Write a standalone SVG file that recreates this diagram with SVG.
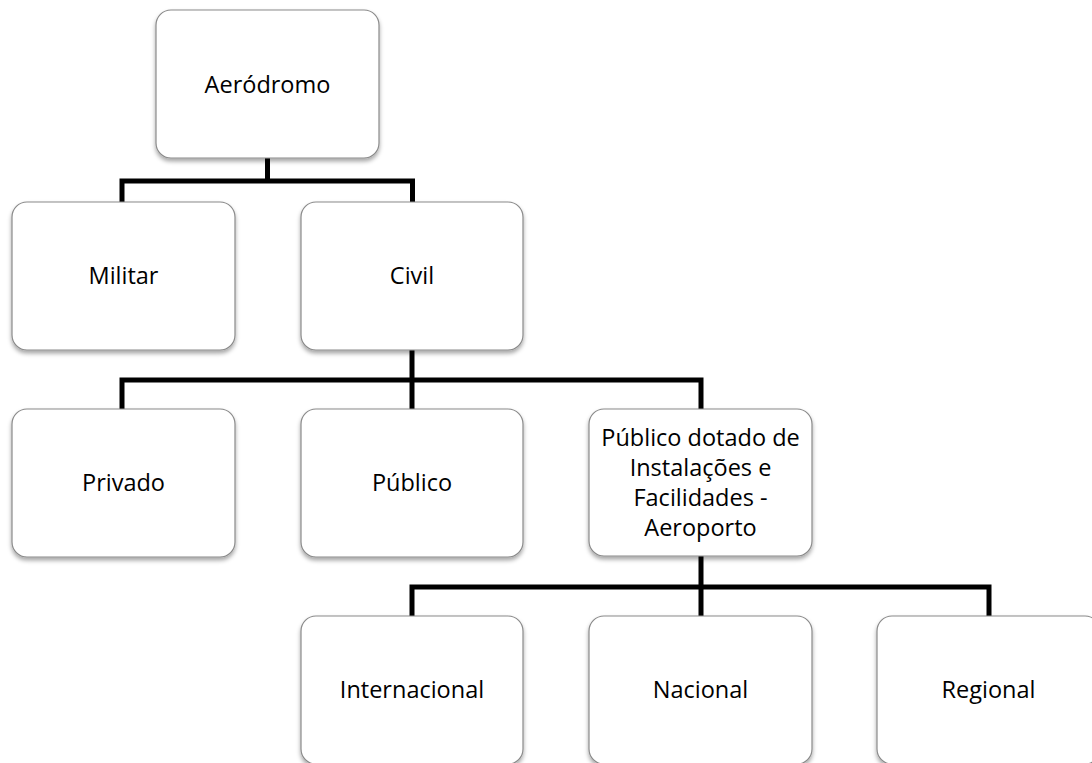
<svg xmlns="http://www.w3.org/2000/svg" width="1092" height="763" viewBox="0 0 1092 763">
<defs>
<filter id="sh" x="-10%" y="-10%" width="120%" height="125%">
<feDropShadow dx="0" dy="3" stdDeviation="2" flood-color="#000" flood-opacity="0.35"/>
</filter>
<style>
.box{fill:#fff;stroke:#8a8a8a;stroke-width:1.2;filter:url(#sh)}
.lbl{font-family:"Open Sans","Noto Sans",sans-serif;font-size:23.5px;fill:#000;text-anchor:middle}
.con{fill:none;stroke:#000;stroke-width:5;stroke-linejoin:miter;stroke-linecap:butt}
</style>
</defs>
<rect width="1092" height="763" fill="#fff"/>
<g id="connectors">
<path class="con" d="M267.5,158 V181 M122,202 V181 H412.5 V202"/>
<path class="con" d="M412,350 V409 M122,409 V380 H701 V409"/>
<path class="con" d="M701,556 V616 M412,616 V587 H989 V616"/>
</g>
<g id="n-aerodromo">
<rect class="box" x="156" y="10" width="223" height="148" rx="15"/>
<text class="lbl" x="267.5" y="93">Aeródromo</text>
</g>
<g id="n-militar">
<rect class="box" x="12" y="202" width="223" height="148" rx="15"/>
<text class="lbl" x="123.5" y="284">Militar</text>
</g>
<g id="n-civil">
<rect class="box" x="301" y="202" width="222" height="148" rx="15"/>
<text class="lbl" x="412" y="284">Civil</text>
</g>
<g id="n-privado">
<rect class="box" x="12" y="409" width="223" height="148" rx="15"/>
<text class="lbl" x="123.5" y="491">Privado</text>
</g>
<g id="n-publico">
<rect class="box" x="301" y="409" width="222" height="148" rx="15"/>
<text class="lbl" x="412" y="491">Público</text>
</g>
<g id="n-publico-dotado">
<rect class="box" x="589" y="409" width="223" height="147" rx="15"/>
<text class="lbl" x="700.5" y="446">Público dotado de</text>
<text class="lbl" x="700.5" y="476">Instalações e</text>
<text class="lbl" x="700.5" y="506">Facilidades -</text>
<text class="lbl" x="700.5" y="536">Aeroporto</text>
</g>
<g id="n-internacional">
<rect class="box" x="301" y="616" width="222" height="148" rx="15"/>
<text class="lbl" x="412" y="698">Internacional</text>
</g>
<g id="n-nacional">
<rect class="box" x="589" y="616" width="223" height="148" rx="15"/>
<text class="lbl" x="700.5" y="698">Nacional</text>
</g>
<g id="n-regional">
<rect class="box" x="877" y="616" width="223" height="148" rx="15"/>
<text class="lbl" x="988.5" y="698">Regional</text>
</g>
</svg>
